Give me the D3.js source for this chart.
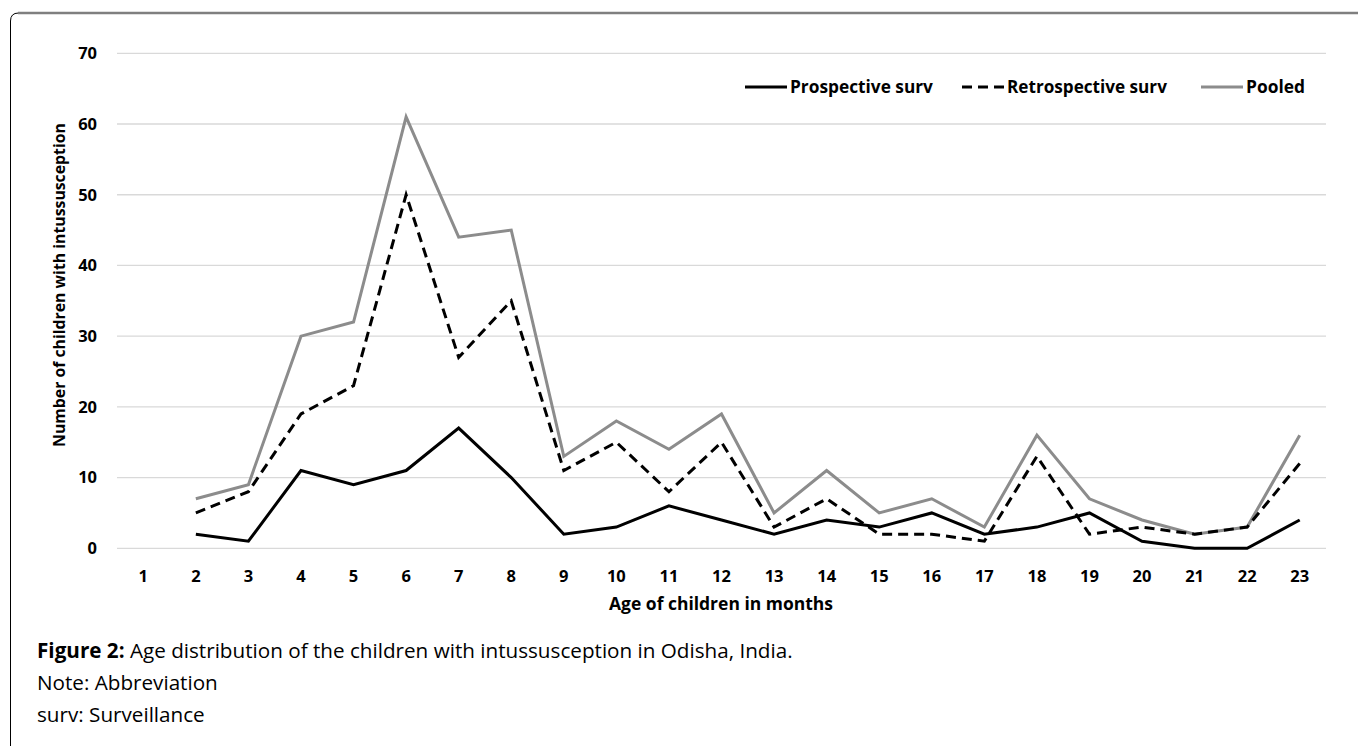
<!DOCTYPE html>
<html><head><meta charset="utf-8">
<script src="https://cdn.jsdelivr.net/npm/d3@7"></script>
<style>body{margin:0;background:#fff}svg{display:block}</style>
</head><body>
<svg id="c" width="1358" height="746"></svg>
<script>
const months = ["1","2","3","4","5","6","7","8","9","10","11","12","13","14","15","16","17","18","19","20","21","22","23"];
const prospective = [null,2,1,11,9,11,17,10,2,3,6,4,2,4,3,5,2,3,5,1,0,0,4];
const retrospective = [null,5,8,19,23,50,27,35,11,15,8,15,3,7,2,2,1,13,2,3,2,3,12];
const pooled = [null,7,9,30,32,61,44,45,13,18,14,19,5,11,5,7,3,16,7,4,2,3,16];
const yTicks = [0,10,20,30,40,50,60,70];
const seriesNames = ["Prospective surv","Retrospective surv","Pooled"];

const svg = d3.select("#c");
const font = "'Open Sans', sans-serif";
const L = 117, R = 1326, T = 53.3, B = 548.3;
const x = d3.scaleBand().domain(months).range([L, R]);
const y = d3.scaleLinear().domain([0,70]).range([B, T]);

function fit(sel, target) {
  const w = sel.node().getComputedTextLength();
  const fs = parseFloat(sel.attr("font-size"));
  sel.attr("font-size", (fs * target / w).toFixed(2));
}

// frame
svg.append("path").attr("d", `M10.5,746 L10.5,21 Q10.5,13 18.5,13 L1358,13`)
  .attr("fill","none").attr("stroke","#000").attr("stroke-width",1);
svg.append("line").attr("x1",18).attr("x2",1358).attr("y1",13).attr("y2",13)
  .attr("stroke","#7f7f7f").attr("stroke-width",2.5);

// grid
svg.append("g").selectAll("line").data(yTicks).join("line")
  .attr("x1",L).attr("x2",R).attr("y1",d=>y(d)).attr("y2",d=>y(d))
  .attr("stroke","#d9d9d9").attr("stroke-width",1.3);

// y axis
const ya = svg.append("g").attr("transform",`translate(${L},0)`)
  .call(d3.axisLeft(y).tickValues(yTicks).tickSize(0).tickPadding(20));
ya.select(".domain").remove();
ya.selectAll("text").attr("font-family",font).attr("font-weight","bold").attr("font-size",16.5).attr("fill","#000");

// x axis
const xa = svg.append("g").attr("transform",`translate(0,${B})`)
  .call(d3.axisBottom(x).tickSize(0).tickPadding(0));
xa.select(".domain").remove();
xa.selectAll("text").attr("font-family",font).attr("font-weight","bold").attr("font-size",16.5).attr("fill","#000")
  .attr("dy",null).attr("y",34);

// titles
const xt = svg.append("text").attr("x",721).attr("y",610).attr("text-anchor","middle")
  .attr("font-family",font).attr("font-weight","bold").attr("font-size",16).text("Age of children in months");
fit(xt, 224);
const yt = svg.append("text").attr("transform","translate(65,285) rotate(-90)").attr("text-anchor","middle")
  .attr("font-family",font).attr("font-weight","bold").attr("font-size",16).text("Number of children with intussusception");
fit(yt, 324);

// lines
const line = d3.line().defined(d=>d.v!=null).x(d=>x(d.m)+x.bandwidth()/2).y(d=>y(d.v));
const mk = arr => months.map((m,i)=>({m, v: arr[i]}));
const styles = [
  {data: pooled, stroke:"#8c8c8c", dash:null},
  {data: retrospective, stroke:"#000", dash:"10,6"},
  {data: prospective, stroke:"#000", dash:null}
];
styles.forEach(s=>{
  svg.append("path").attr("d", line(mk(s.data))).attr("fill","none")
    .attr("stroke",s.stroke).attr("stroke-width",3).attr("stroke-dasharray",s.dash)
    .attr("stroke-linejoin","miter");
});

// legend
const leg = [
  {name: seriesNames[0], x: 745, w: 143, stroke:"#000", dash:null},
  {name: seriesNames[1], x: 962, w: 160, stroke:"#000", dash:"10,6"},
  {name: seriesNames[2], x: 1201, w: 59, stroke:"#8c8c8c", dash:null}
];
leg.forEach(l=>{
  svg.append("line").attr("x1",l.x).attr("x2",l.x+42).attr("y1",87).attr("y2",87)
    .attr("stroke",l.stroke).attr("stroke-width",3).attr("stroke-dasharray",l.dash);
  const t = svg.append("text").attr("x",l.x+45).attr("y",93).attr("font-family",font)
    .attr("font-weight","bold").attr("font-size",16).text(l.name);
  fit(t, l.w);
});

// caption
const cap = svg.append("text").attr("x",37).attr("y",658).attr("font-family",font).attr("font-size",19);
cap.append("tspan").attr("font-weight","bold").text("Figure 2:");
cap.append("tspan").text(" Age distribution of the children with intussusception in Odisha, India.");
fit(cap, 756);
const capFs = cap.attr("font-size");
svg.append("text").attr("x",37).attr("y",690).attr("font-family",font).attr("font-size",capFs).text("Note: Abbreviation");
svg.append("text").attr("x",37).attr("y",722).attr("font-family",font).attr("font-size",capFs).text("surv: Surveillance");
</script>
</body></html>
